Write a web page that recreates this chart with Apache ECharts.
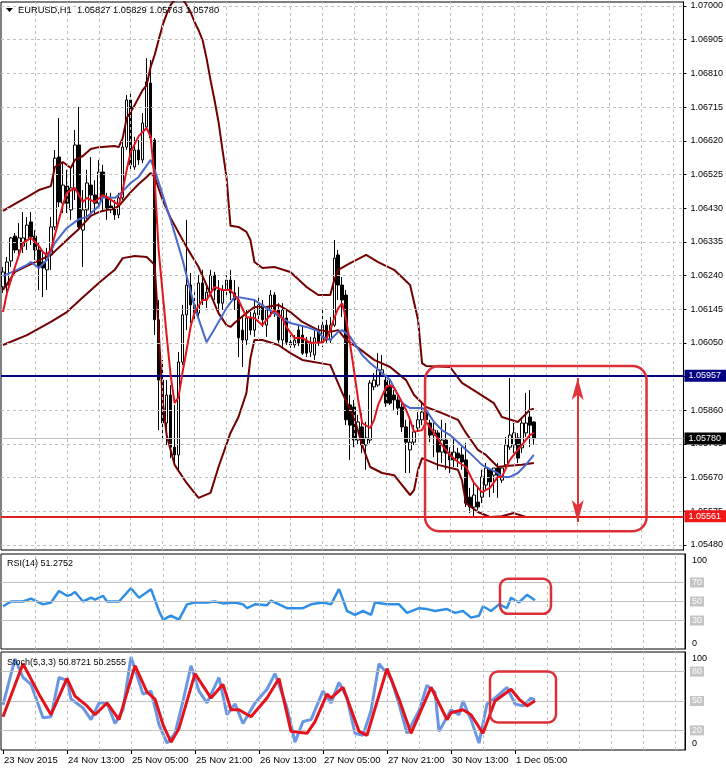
<!DOCTYPE html>
<html><head><meta charset="utf-8">
<script src="https://cdn.jsdelivr.net/npm/echarts@6/dist/echarts.min.js"></script>
<style>html,body{margin:0;padding:0;background:#fff}#c{width:726px;height:769px}</style>
</head><body><div id="c"></div>
<script>
// ---------------- data ----------------
const symbolName = 'EURUSD,H1';
const tickBars = [0,16,32,48,64,80,96,112,128];
const tickLabels = ['23 Nov 2015','24 Nov 13:00','25 Nov 05:00','25 Nov 21:00','26 Nov 13:00','27 Nov 05:00','27 Nov 21:00','30 Nov 13:00','1 Dec 05:00'];
const priceTicks = [1.05480,1.05575,1.05670,1.05765,1.05860,1.05955,1.06050,1.06145,1.06240,1.06335,1.06430,1.06525,1.06620,1.06715,1.06810,1.06905,1.07000];

const open = [1.06208,1.06213,1.06281,1.06351,1.06312,1.06323,1.06340,1.06391,1.06351,1.06312,1.06278,1.06256,1.06298,1.06377,1.06574,1.06444,1.06492,1.06425,1.06481,1.06608,
1.06368,1.06425,1.06495,1.06467,1.06444,1.06532,1.06461,1.06436,1.06430,1.06411,1.06459,1.06602,1.06735,1.06546,1.06594,1.06566,1.06659,1.06783,1.06622,1.06115,
1.05945,1.05824,1.05903,1.05756,1.05734,1.05996,1.06129,1.06213,1.06157,1.06134,1.06219,1.06171,1.06193,1.06241,1.06199,1.06162,1.06199,1.06227,1.06191,1.06171,
1.06086,1.06058,1.06120,1.06086,1.06129,1.06157,1.06100,1.06143,1.06185,1.06143,1.06058,1.06120,1.06052,1.06044,1.06086,1.06072,1.06058,1.06024,1.06016,1.06086,
1.06050,1.06100,1.06058,1.06100,1.06298,1.06213,1.06185,1.05875,1.05869,1.05776,1.05813,1.05762,1.05776,1.05926,1.05931,1.05959,1.05945,1.05926,1.05903,1.05889,
1.05869,1.05813,1.05748,1.05770,1.05810,1.05833,1.05855,1.05824,1.05790,1.05796,1.05742,1.05776,1.05742,1.05720,1.05739,1.05734,1.05720,1.05615,1.05587,1.05601,
1.05615,1.05649,1.05692,1.05677,1.05697,1.05663,1.05706,1.05756,1.05762,1.05782,1.05754,1.05796,1.05841,1.05827];
const high = [1.06264,1.06292,1.06349,1.06360,1.06388,1.06419,1.06405,1.06419,1.06368,1.06332,1.06303,1.06318,1.06405,1.06594,1.06684,1.06557,1.06538,1.06546,1.06650,1.06715,
1.06481,1.06538,1.06574,1.06509,1.06566,1.06552,1.06473,1.06473,1.06453,1.06473,1.06622,1.06749,1.06757,1.06631,1.06622,1.06698,1.06853,1.06848,1.06628,1.06171,
1.06002,1.05945,1.05931,1.05875,1.06024,1.06157,1.06397,1.06247,1.06199,1.06241,1.06256,1.06213,1.06256,1.06250,1.06227,1.06213,1.06241,1.06256,1.06227,1.06208,
1.06123,1.06143,1.06137,1.06171,1.06177,1.06171,1.06151,1.06199,1.06193,1.06162,1.06162,1.06143,1.06072,1.06072,1.06100,1.06100,1.06067,1.06067,1.06086,1.06100,
1.06143,1.06115,1.06123,1.06340,1.06312,1.06236,1.06199,1.05903,1.05889,1.05847,1.05852,1.05827,1.05945,1.05965,1.06021,1.06016,1.05954,1.05945,1.05917,1.05909,
1.05880,1.05833,1.05833,1.05818,1.05855,1.05883,1.05875,1.05833,1.05824,1.05804,1.05833,1.05824,1.05756,1.05785,1.05754,1.05756,1.05768,1.05641,1.05655,1.05644,
1.05692,1.05711,1.05697,1.05697,1.05711,1.05697,1.05785,1.05951,1.05824,1.05796,1.05833,1.05909,1.05917,1.05829];
const low = [1.06191,1.06193,1.06264,1.06303,1.06292,1.06303,1.06312,1.06326,1.06284,1.06199,1.06179,1.06199,1.06256,1.06368,1.06433,1.06416,1.06416,1.06397,1.06453,1.06368,
1.06264,1.06397,1.06416,1.06416,1.06433,1.06419,1.06397,1.06416,1.06397,1.06402,1.06453,1.06594,1.06538,1.06538,1.06552,1.06557,1.06650,1.06616,1.06072,1.05804,
1.05776,1.05762,1.05725,1.05714,1.05692,1.05988,1.06086,1.06106,1.06109,1.06120,1.06157,1.06148,1.06191,1.06171,1.06134,1.06143,1.06185,1.06171,1.06143,1.06010,
1.05982,1.06044,1.06072,1.06067,1.06115,1.06095,1.06067,1.06123,1.06123,1.06050,1.06038,1.06044,1.06036,1.06036,1.06041,1.06016,1.06010,1.06010,1.06002,1.06041,
1.06038,1.06050,1.06050,1.06095,1.06171,1.06123,1.05818,1.05720,1.05756,1.05762,1.05739,1.05692,1.05768,1.05917,1.05926,1.05954,1.05869,1.05875,1.05861,1.05847,
1.05799,1.05683,1.05683,1.05762,1.05799,1.05818,1.05776,1.05770,1.05728,1.05692,1.05711,1.05692,1.05683,1.05700,1.05700,1.05692,1.05587,1.05570,1.05561,1.05579,
1.05598,1.05635,1.05615,1.05627,1.05613,1.05655,1.05692,1.05748,1.05739,1.05711,1.05739,1.05785,1.05756,1.05763];
const close = [1.06250,1.06278,1.06346,1.06312,1.06346,1.06346,1.06382,1.06349,1.06312,1.06267,1.06261,1.06303,1.06377,1.06571,1.06447,1.06495,1.06444,1.06487,1.06608,1.06377,
1.06425,1.06501,1.06467,1.06444,1.06532,1.06461,1.06430,1.06425,1.06411,1.06459,1.06602,1.06735,1.06552,1.06594,1.06566,1.06670,1.06786,1.06628,1.06115,1.05945,
1.05824,1.05903,1.05756,1.05734,1.05996,1.06129,1.06213,1.06157,1.06134,1.06219,1.06171,1.06193,1.06241,1.06199,1.06162,1.06199,1.06227,1.06191,1.06171,1.06064,
1.06058,1.06120,1.06086,1.06134,1.06157,1.06115,1.06143,1.06185,1.06137,1.06058,1.06143,1.06052,1.06044,1.06058,1.06050,1.06021,1.06021,1.06052,1.06064,1.06050,
1.06100,1.06058,1.06100,1.06289,1.06213,1.06171,1.05833,1.05818,1.05776,1.05827,1.05762,1.05782,1.05937,1.05945,1.05974,1.05974,1.05880,1.05880,1.05889,1.05866,
1.05813,1.05770,1.05770,1.05799,1.05833,1.05855,1.05833,1.05790,1.05804,1.05742,1.05776,1.05739,1.05720,1.05742,1.05725,1.05714,1.05598,1.05587,1.05621,1.05587,
1.05672,1.05697,1.05658,1.05697,1.05677,1.05697,1.05762,1.05790,1.05796,1.05725,1.05824,1.05824,1.05818,1.05780];

// indicator lines: [bar index, value]
const bbUpper = [[0,1.06422],[3,1.06442],[6,1.06461],[9,1.06481],[12,1.06492],[13,1.06546],[15,1.06560],[17,1.06543],[18,1.06566],[20,1.06577],[22,1.06597],[24,1.06602],[28,1.06605],[29,1.06602],[30,1.06628],[31,1.06684],[32,1.06701],[33,1.06721],[35,1.06763],[36,1.06777],[37,1.06828],[38,1.06862],[39,1.06904],[40,1.06946],[41,1.06977],[42,1.07003],[43,1.07017],[44,1.07025],[45,1.07020],[46,1.07003],[47,1.06983],[48,1.06955],[49,1.06932],[50,1.06904],[51,1.06853],[52,1.06791],[53,1.06735],[54,1.06673],[55,1.06594],[56,1.06518],[57,1.06380],[59,1.06377],[61,1.06363],[62,1.06340],[63,1.06278],[65,1.06261],[68,1.06264],[72,1.06250],[76,1.06208],[79,1.06185],[82,1.06185],[83,1.06227],[84,1.06256],[87,1.06275],[91,1.06298],[94,1.06278],[98,1.06256],[102,1.06213],[104,1.06115],[105,1.05993],[106,1.05985],[112,1.05982],[115,1.05937],[119,1.05909],[123,1.05880],[125,1.05841],[129,1.05827],[132,1.05861],[133,1.05864]];
const bbMiddle = [[0,1.06199],[3,1.06250],[7,1.06272],[12,1.06298],[16,1.06340],[19,1.06371],[22,1.06408],[24,1.06419],[28,1.06430],[29,1.06436],[32,1.06475],[34,1.06498],[36,1.06518],[37,1.06529],[38,1.06518],[40,1.06453],[42,1.06402],[46,1.06320],[49,1.06264],[51,1.06213],[54,1.06134],[56,1.06100],[57,1.06095],[58,1.06106],[61,1.06134],[63,1.06151],[66,1.06151],[69,1.06157],[72,1.06137],[75,1.06109],[79,1.06086],[82,1.06081],[84,1.06086],[86,1.06058],[89,1.06036],[93,1.06002],[97,1.05982],[101,1.05945],[103,1.05903],[106,1.05869],[110,1.05852],[114,1.05833],[116,1.05796],[119,1.05748],[121,1.05734],[124,1.05700],[126,1.05703],[130,1.05706],[133,1.05711]];
const bbLower = [[0,1.06044],[6,1.06072],[12,1.06109],[16,1.06137],[19,1.06168],[24,1.06219],[28,1.06256],[30,1.06289],[33,1.06295],[36,1.06292],[38,1.06270],[39,1.06086],[40,1.05889],[41,1.05790],[43,1.05706],[46,1.05655],[49,1.05613],[52,1.05627],[54,1.05700],[57,1.05796],[59,1.05841],[61,1.05909],[62,1.06007],[63,1.06058],[65,1.06058],[69,1.06044],[72,1.06021],[75,1.06002],[82,1.05988],[85,1.05909],[88,1.05838],[90,1.05762],[92,1.05700],[95,1.05683],[98,1.05677],[100,1.05649],[102,1.05621],[103,1.05635],[104,1.05692],[105,1.05725],[109,1.05706],[114,1.05692],[115,1.05663],[116,1.05598],[119,1.05573],[122,1.05559],[125,1.05561],[128,1.05570],[131,1.05559]];
const maFast = [[0,1.06137],[1,1.06191],[3,1.06264],[5,1.06332],[7,1.06346],[9,1.06323],[10,1.06306],[11,1.06298],[12,1.06312],[13,1.06354],[15,1.06439],[16,1.06473],[18,1.06487],[20,1.06447],[21,1.06459],[23,1.06447],[25,1.06467],[26,1.06461],[29,1.06439],[30,1.06481],[31,1.06538],[32,1.06588],[34,1.06633],[36,1.06656],[37,1.06631],[38,1.06509],[39,1.06312],[40,1.06191],[41,1.06072],[42,1.05959],[43,1.05880],[44,1.05897],[45,1.05968],[46,1.06030],[47,1.06095],[48,1.06137],[50,1.06171],[51,1.06171],[53,1.06208],[55,1.06199],[57,1.06199],[59,1.06171],[61,1.06123],[63,1.06120],[65,1.06100],[66,1.06115],[68,1.06143],[70,1.06120],[71,1.06095],[73,1.06064],[75,1.06064],[77,1.06050],[80,1.06052],[81,1.06061],[82,1.06086],[83,1.06120],[84,1.06148],[85,1.06162],[86,1.06115],[87,1.06044],[88,1.05968],[89,1.05889],[90,1.05824],[92,1.05810],[93,1.05833],[94,1.05875],[96,1.05926],[97,1.05931],[98,1.05923],[99,1.05903],[101,1.05861],[102,1.05833],[103,1.05799],[105,1.05804],[106,1.05827],[108,1.05796],[110,1.05762],[112,1.05734],[114,1.05714],[116,1.05700],[118,1.05655],[120,1.05629],[122,1.05641],[124,1.05672],[125,1.05672],[127,1.05720],[129,1.05748],[131,1.05776],[132,1.05790],[133,1.05796]];
const maSlow = [[0,1.06239],[3,1.06253],[6,1.06270],[7,1.06278],[9,1.06261],[11,1.06284],[13,1.06332],[16,1.06374],[19,1.06399],[21,1.06405],[24,1.06436],[25,1.06461],[28,1.06459],[29,1.06467],[32,1.06501],[34,1.06518],[37,1.06566],[38,1.06538],[42,1.06397],[45,1.06284],[48,1.06151],[51,1.06052],[53,1.06089],[56,1.06148],[58,1.06179],[59,1.06179],[63,1.06171],[66,1.06148],[69,1.06126],[72,1.06106],[76,1.06095],[79,1.06083],[80,1.06067],[82,1.06058],[84,1.06081],[85,1.06086],[87,1.06067],[90,1.06016],[92,1.05993],[95,1.05965],[97,1.05945],[100,1.05880],[102,1.05866],[105,1.05866],[106,1.05861],[108,1.05827],[110,1.05804],[112,1.05790],[114,1.05770],[117,1.05739],[120,1.05706],[124,1.05683],[125,1.05672],[127,1.05672],[129,1.05683],[131,1.05706],[133,1.05734]];

const rsi = [[0,45],[2,50],[5,50],[7,53],[9,49],[10,47],[12,49],[14,61],[16,56],[17,57],[18,60],[20,50],[22,54],[23,52],[25,56],[26,50],[29,50],[32,64],[34,54],[37,63],[39,40],[40,31],[42,35],[44,31],[46,47],[48,49],[51,49],[53,50],[55,48],[58,49],[60,47],[61,43],[63,47],[66,46],[67,51],[69,47],[71,43],[75,43],[77,47],[80,49],[82,47],[84,63],[85,52],[86,40],[88,36],[90,40],[92,36],[93,49],[96,47],[99,47],[101,38],[104,43],[106,42],[108,40],[111,42],[113,38],[115,40],[117,33],[119,35],[120,45],[122,40],[124,47],[126,43],[127,54],[129,49],[131,57],[133,51.2752]];
const stochMain = [[0,46],[3,93],[5,74],[7,67],[10,33],[12,34],[14,74],[16,71],[17,52],[20,43],[22,31],[24,48],[26,48],[28,27],[30,41],[32,95],[35,57],[37,60],[39,26],[41,7],[43,17],[45,50],[47,86],[49,60],[51,48],[54,74],[56,36],[58,47],[60,27],[63,48],[66,62],[68,78],[71,43],[73,8],[75,29],[77,31],[80,60],[82,48],[84,69],[86,53],[88,17],[90,15],[92,40],[94,88],[97,73],[99,47],[101,17],[104,40],[106,66],[108,59],[109,19],[112,41],[114,36],[115,50],[117,31],[119,7],[121,47],[123,53],[126,64],[128,47],[130,45],[132,53],[133,50.8721]];
const stochSignal = [[0,34],[5,88],[9,57],[12,36],[16,73],[18,55],[21,45],[23,36],[26,48],[29,31],[33,86],[36,59],[38,52],[40,26],[42,8],[44,22],[48,78],[52,53],[55,67],[57,41],[59,41],[62,34],[66,53],[69,73],[72,19],[76,17],[78,29],[81,57],[82,53],[85,64],[89,19],[91,15],[96,83],[99,52],[102,17],[107,64],[111,31],[112,38],[115,41],[117,36],[120,17],[123,50],[127,62],[129,52],[131,45],[133,50.2555]];

const levelHigh = 1.05957, levelLow = 1.05561, bidLevel = 1.05780;
const rsiLevels = [70,50,30];
const stochLevels = [80,50,20];

// annotations in data space
const arrowBar = 144, arrowTop = 1.05951, arrowBottom = 1.05545;
const annoBoxes = [
  {grid:0, bars:[105.75,161.25], vals:[1.05985,1.05519], r:14},
  {grid:1, bars:[124.25,137], vals:[74,37], r:8},
  {grid:2, bars:[121.75,138.25], vals:[80,28], r:8}
];

// ---------------- chart ----------------
const FONT = 'Liberation Sans, Arial, sans-serif';
const SLOTS = 171;
const categories = Array.from({length: SLOTS}, (_, i) => String(i));
const gridBars = [];
for (let b = 8; b < SLOTS; b += 8) gridBars.push(b);
const last = open.length - 1;

const chart = echarts.init(document.getElementById('c'), null, {renderer: 'canvas'});

const gridLineStyle = {color:'#c0c0c0', type:[3,3], width:1};
function gridHelper(k, hvals) {
  return {
    type:'line', xAxisIndex:k, yAxisIndex:k, data:[], silent:true, z:1,
    markLine:{silent:true, precision:6, symbol:['none','none'], label:{show:false}, lineStyle:gridLineStyle, animation:false,
      data:[...hvals.map(v => ({yAxis:v})), ...gridBars.map(b => ({xAxis:b}))]}
  };
}
function ln(data, color, width, k, z) {
  return {type:'line', xAxisIndex:k, yAxisIndex:k, data, showSymbol:false, symbol:'none', silent:true,
    lineStyle:{color, width}, z: z || 4};
}
function levelHelper(k, levels) {
  return {
    type:'line', xAxisIndex:k, yAxisIndex:k, data:[], silent:true, z:2,
    markLine:{silent:true, precision:0, symbol:['none','none'], animation:false,
      lineStyle:{color:'#c0c0c0', type:'solid', width:1},
      label:{show:true, position:'end', distance:5, formatter:p => String(p.value), color:'#fff',
        backgroundColor:'#c4c4c4', padding:[1,2,0,2], fontSize:9, fontFamily:FONT},
      data: levels.map(v => ({yAxis:v}))}
  };
}
function priceLabel(bg) {
  return {show:true, position:'end', distance:1, formatter:p => Number(p.value).toFixed(5), color:'#fff',
    backgroundColor:bg, padding:[2,5,1,4], fontSize:9, fontFamily:FONT};
}
const xAxisBase = k => ({
  type:'category', gridIndex:k, data:categories, boundaryGap:true,
  axisLine:{show:false}, splitLine:{show:false},
  axisTick: k === 2 ? {show:true, alignWithLabel:true, interval:(i) => tickBars.includes(i), length:4, lineStyle:{color:'#000'}} : {show:false},
  axisLabel: k === 2 ? {show:true, interval:(i) => tickBars.includes(i), formatter:(v, i) => tickLabels[tickBars.indexOf(i)],
    align:'left', margin:5, fontSize:9.5, color:'#000', fontFamily:FONT, padding:[0,0,0,1]} : {show:false}
});
const oscY = (k, padTop, padBot) => ({
  type:'value', gridIndex:k, position:'right', min:0, max:100,
  axisLine:{show:true, lineStyle:{color:'#000'}}, axisTick:{show:false}, splitLine:{show:false},
  axisLabel:{show:true, customValues:[0,100], margin:7, color:'#000', fontSize:9, fontFamily:FONT,
    formatter:v => v === 100 ? '{a|100}' : '{b|0}',
    rich:{a:{padding:[padTop,0,0,0], fontSize:9, fontFamily:FONT}, b:{padding:[0,0,padBot,0], fontSize:9, fontFamily:FONT}}}
});

const option = {
  animation:false,
  backgroundColor:'#fff',
  textStyle:{fontFamily:FONT},
  title:[
    {text:`${symbolName}  ${open[last].toFixed(5)} ${high[last].toFixed(5)} ${low[last].toFixed(5)} ${close[last].toFixed(5)}`,
      left:13, top:1, textStyle:{fontSize:9.3, fontWeight:'normal', color:'#000', fontFamily:FONT}},
    {text:`RSI(14) ${rsi[rsi.length-1][1].toFixed(4)}`, left:2, top:554, textStyle:{fontSize:9, fontWeight:'normal', color:'#000', fontFamily:FONT}},
    {text:`Stoch(5,3,3) ${stochMain[stochMain.length-1][1].toFixed(4)} ${stochSignal[stochSignal.length-1][1].toFixed(4)}`, left:2, top:653, textStyle:{fontSize:9, fontWeight:'normal', color:'#000', fontFamily:FONT}}
  ],
  grid:[
    {left:1, top:2, width:684, height:548, show:true, borderColor:'#000', borderWidth:1},
    {left:1, top:554, width:684, height:95, show:true, borderColor:'#000', borderWidth:1},
    {left:1, top:652, width:684, height:98, show:true, borderColor:'#000', borderWidth:1}
  ],
  xAxis:[xAxisBase(0), xAxisBase(1), xAxisBase(2)],
  yAxis:[
    {type:'value', gridIndex:0, position:'right', min:1.054659, max:1.070113,
      axisLine:{show:true, lineStyle:{color:'#000'}},
      axisTick:{show:true, customValues:priceTicks, length:3, lineStyle:{color:'#000'}},
      axisLabel:{show:true, customValues:priceTicks, formatter:v => v.toFixed(5), margin:7, fontSize:9, color:'#000', fontFamily:FONT},
      splitLine:{show:false}},
    oscY(1, 14, 10),
    oscY(2, 13, 13)
  ],
  series:[
    gridHelper(0, priceTicks),
    gridHelper(1, []),
    gridHelper(2, []),
    levelHelper(1, rsiLevels),
    levelHelper(2, stochLevels),
    {type:'candlestick', xAxisIndex:0, yAxisIndex:0, barWidth:3, silent:true, z:3,
      data: open.map((o, i) => [o, close[i], low[i], high[i]]),
      itemStyle:{color:'#fff', color0:'#000', borderColor:'#000', borderColor0:'#000', borderWidth:1}},
    ln(bbUpper, '#730000', 2, 0),
    ln(bbMiddle, '#730000', 2, 0),
    ln(bbLower, '#730000', 2, 0),
    ln(maSlow, '#4a68cc', 2, 0, 5),
    ln(maFast, '#e2141c', 2, 0, 6),
    ln(rsi, '#2f8fe6', 2.5, 1),
    ln(stochMain, '#6a97e4', 3, 2),
    ln(stochSignal, '#e3121b', 3, 2, 5),
    {type:'line', xAxisIndex:0, yAxisIndex:0, data:[], silent:true, z:7,
      markLine:{silent:true, precision:6, symbol:['none','none'], animation:false,
        data:[
          {yAxis:bidLevel, lineStyle:{color:'#c0c0c0', width:1, type:'solid'}, label:priceLabel('#000')},
          {yAxis:levelHigh, lineStyle:{color:'#000080', width:2, type:'solid'}, label:priceLabel('#000080')},
          {yAxis:levelLow, lineStyle:{color:'#e31c1c', width:2, type:'solid'}, label:priceLabel('#f01818')}
        ]}},
    {type:'line', xAxisIndex:0, yAxisIndex:0, data:[], silent:true, z:8,
      markLine:{silent:true, precision:6, symbol:['arrow','arrow'], symbolSize:[9,22], animation:false,
        label:{show:false}, lineStyle:{color:'#e0343a', width:2, type:'solid'},
        data:[[{coord:[arrowBar, arrowTop]}, {coord:[arrowBar, arrowBottom]}]]}}
  ]
};
chart.setOption(option);

function px(k, bar, val) {
  const b0 = Math.floor(bar), f = bar - b0;
  const p0 = chart.convertToPixel({xAxisIndex:k, yAxisIndex:k}, [b0, val]);
  const p1 = chart.convertToPixel({xAxisIndex:k, yAxisIndex:k}, [b0 + 1, val]);
  return [p0[0] + f * (p1[0] - p0[0]), p0[1]];
}
const graphics = annoBoxes.map(b => {
  const a = px(b.grid, b.bars[0], b.vals[0]);
  const c = px(b.grid, b.bars[1], b.vals[1]);
  return {type:'rect', z:100, silent:true,
    shape:{x:a[0], y:a[1], width:c[0]-a[0], height:c[1]-a[1], r:b.r},
    style:{fill:'none', stroke:'#dc3038', lineWidth:2.5}};
});
graphics.push({type:'polygon', z:100, silent:true, shape:{points:[[6,8],[13,8],[9.5,12]]}, style:{fill:'#000'}});
chart.setOption({graphic:graphics});
</script></body></html>
